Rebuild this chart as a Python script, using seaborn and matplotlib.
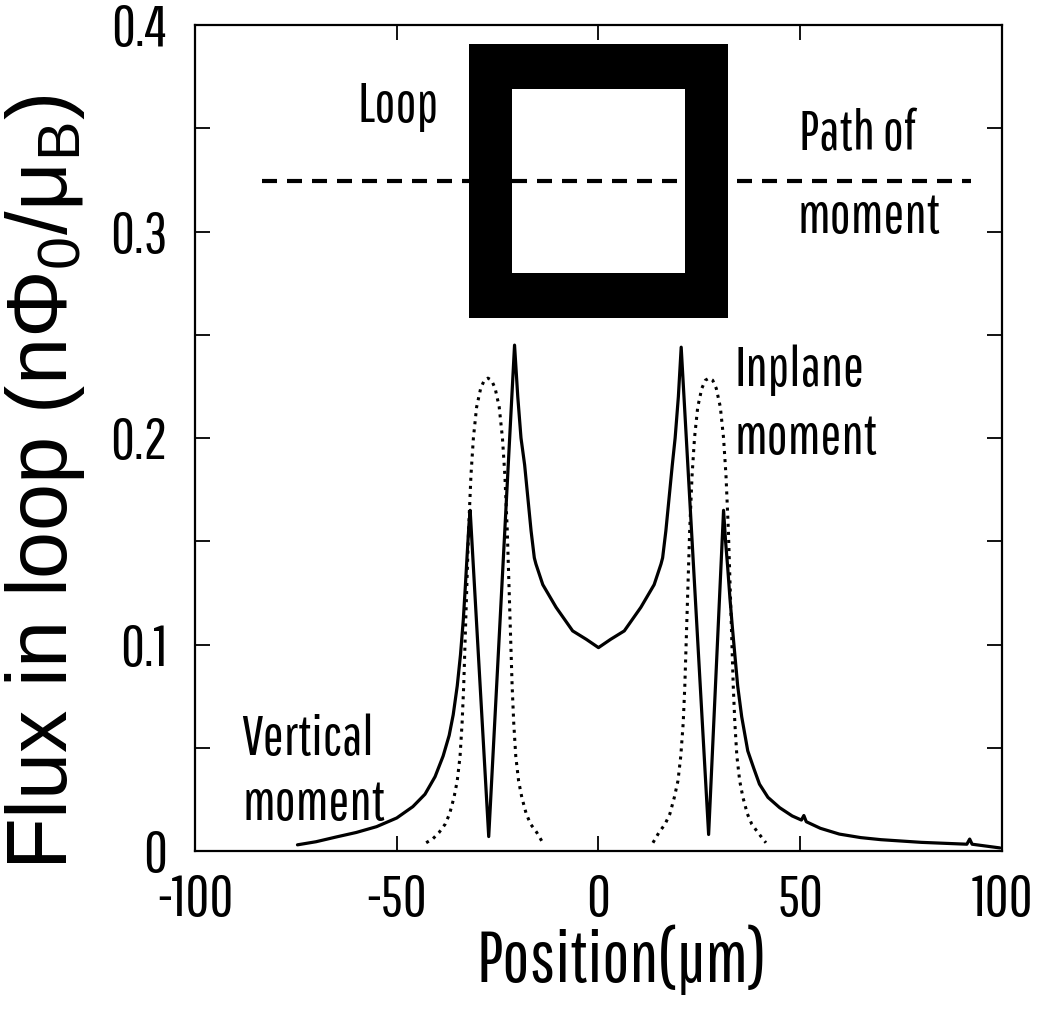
import seaborn as sns
import matplotlib.pyplot as plt
from matplotlib.patches import Rectangle
from matplotlib.ticker import FixedLocator, MultipleLocator

# flux of the vertical moment (solid line)
vert_x = [-74.6, -70.0, -65.0, -60.0, -55.0, -50.0, -46.0, -43.0, -40.5, -38.5,
          -37.0, -36.0, -35.0, -34.2, -33.5, -33.0, -32.5, -32.1, -31.8, -27.2,
          -20.8, -20.0, -19.2, -18.3, -16.7, -15.9, -15.5, -13.8, -10.5, -6.4,
          -3.0, 0.0, 3.0, 6.4, 10.5, 13.8, 15.5, 15.9, 16.7, 18.3,
          19.0, 19.8, 20.5, 27.3, 31.0, 31.5, 32.0, 32.6, 33.2, 33.8,
          34.5, 35.5, 37.0, 38.5, 39.9, 42.0, 44.9, 48.0, 50.3, 50.9,
          51.5, 55.0, 59.7, 65.0, 70.0, 80.0, 91.3, 92.0, 92.6, 99.5]
vert_flux = [0.0030, 0.0045, 0.0068, 0.0090, 0.0118, 0.0160, 0.0215, 0.0275, 0.0360, 0.0460,
             0.0560, 0.0660, 0.0800, 0.0950, 0.1120, 0.1280, 0.1450, 0.1580, 0.1650, 0.0070,
             0.2450, 0.2200, 0.2000, 0.1870, 0.1550, 0.1420, 0.1390, 0.1290, 0.1180, 0.1066,
             0.1025, 0.0985, 0.1025, 0.1066, 0.1180, 0.1290, 0.1390, 0.1420, 0.1550, 0.1870,
             0.2000, 0.2200, 0.2440, 0.0080, 0.1650, 0.1500, 0.1380, 0.1220, 0.1080, 0.0950,
             0.0800, 0.0650, 0.0485, 0.0400, 0.0324, 0.0260, 0.0210, 0.0170, 0.0150, 0.0172,
             0.0142, 0.0110, 0.0082, 0.0065, 0.0055, 0.0042, 0.0033, 0.0058, 0.0033, 0.0015]

# flux of the inplane moment (dotted line), two lobes
inplane_left_x = [-42.7, -41.0, -39.5, -38.0, -36.9, -35.8, -35.0, -34.3, -33.8, -33.4,
                  -33.0, -32.6, -32.2, -31.6, -31.0, -30.2, -29.2, -28.3, -27.4, -26.5,
                  -25.6, -24.6, -23.8, -23.2, -22.6, -22.2, -21.8, -21.4, -21.0, -20.5,
                  -19.8, -19.0, -17.9, -16.8, -15.3, -13.8]
inplane_left_flux = [0.004, 0.006, 0.009, 0.013, 0.018, 0.026, 0.034, 0.046, 0.062, 0.080,
                     0.105, 0.130, 0.155, 0.182, 0.200, 0.215, 0.224, 0.228, 0.229, 0.228,
                     0.224, 0.215, 0.200, 0.182, 0.155, 0.130, 0.105, 0.080, 0.062, 0.046,
                     0.034, 0.026, 0.018, 0.013, 0.009, 0.004]
inplane_right_x = [13.5, 15.0, 16.5, 17.7, 18.8, 19.7, 20.4, 21.0, 21.4, 21.8,
                   22.2, 22.6, 23.2, 23.8, 24.6, 25.6, 26.5, 27.4, 28.3, 29.2,
                   30.2, 31.0, 31.6, 32.2, 32.6, 33.0, 33.4, 33.8, 34.3, 35.0,
                   35.8, 36.9, 38.0, 39.5, 41.5]
inplane_right_flux = [0.004, 0.009, 0.013, 0.018, 0.026, 0.034, 0.046, 0.062, 0.080, 0.105,
                      0.130, 0.155, 0.182, 0.200, 0.215, 0.224, 0.228, 0.229, 0.228, 0.224,
                      0.215, 0.200, 0.182, 0.155, 0.130, 0.105, 0.080, 0.062, 0.046, 0.034,
                      0.026, 0.018, 0.013, 0.009, 0.004]

# pickup loop sketch: [x0, x1, y0, y1]
loop_outer = [-32.0, 32.0, 0.258, 0.391]
loop_inner = [-21.5, 21.5, 0.280, 0.369]
path_x = [-83.5, 92.4]
path_y = [0.3245, 0.3245]

x_ticks = [-100, -50, 0, 50, 100]
y_ticks = [0, 0.1, 0.2, 0.3, 0.4]
y_ticklabels = ["0", "0.1", "0.2", "0.3", "0.4"]

sns.set_style("ticks")
# narrow font for ticks and notes, Helvetica-like one for the y label
narrow = ['Pathway Gothic One', 'Liberation Sans Narrow', 'Liberation Sans', 'DejaVu Sans']
wide = ['Liberation Sans', 'DejaVu Sans']
plt.rcParams['font.family'] = narrow
plt.rcParams['mathtext.default'] = 'regular'
plt.rcParams['axes.unicode_minus'] = False
for k in ['text.color', 'axes.labelcolor', 'xtick.color', 'ytick.color', 'axes.edgecolor']:
    plt.rcParams[k] = 'black'

fig = plt.figure(figsize=(10.41, 10.10), dpi=100)
ax = fig.add_axes([0.1873, 0.1574, 0.7752, 0.8178])

# loop: black frame with white inside, path of the moment dashed across
ax.add_patch(Rectangle((loop_outer[0], loop_outer[2]), loop_outer[1] - loop_outer[0],
                       loop_outer[3] - loop_outer[2], facecolor='black', edgecolor='none', zorder=1))
ax.add_patch(Rectangle((loop_inner[0], loop_inner[2]), loop_inner[1] - loop_inner[0],
                       loop_inner[3] - loop_inner[2], facecolor='white', edgecolor='none', zorder=2))
ax.plot(path_x, path_y, color='black', lw=3, dashes=(3.6, 2.4), zorder=3)

sns.lineplot(x=vert_x, y=vert_flux, ax=ax, color='black', lw=2.3, sort=False, zorder=4)
sns.lineplot(x=inplane_left_x, y=inplane_left_flux, ax=ax, color='black', lw=2.2,
             linestyle=':', sort=False, zorder=4)
sns.lineplot(x=inplane_right_x, y=inplane_right_flux, ax=ax, color='black', lw=2.2,
             linestyle=':', sort=False, zorder=4)

ax.set_xlim(-100, 100)
ax.set_ylim(0, 0.4)
ax.xaxis.set_major_locator(FixedLocator(x_ticks))
ax.set_xticklabels([str(t) for t in x_ticks])
ax.yaxis.set_major_locator(FixedLocator(y_ticks))
ax.set_yticklabels(y_ticklabels)
ax.yaxis.set_minor_locator(MultipleLocator(0.05))

ax.tick_params(axis='both', which='both', direction='in', length=11, width=1.3,
               top=True, right=True)
ax.tick_params(axis='y', which='major', labelsize=42, pad=20)
ax.tick_params(axis='x', which='major', labelsize=42, pad=16)
ax.tick_params(axis='x', which='minor', top=False, bottom=False)
for s in ax.spines.values():
    s.set_linewidth(1.6)

ax.set_xlabel("Position(μm)", fontsize=52, va='center')
ax.xaxis.set_label_coords(0.529, -0.132)
ax.set_ylabel("Flux in loop (nΦ$_0$/μ$_B$)", fontsize=61, va='center', family=wide)
ax.yaxis.set_label_coords(-0.186, 0.447)

txt = dict(fontsize=40, ha='left', va='center')
ax.text(-59.7, 0.3607, "Loop", **txt)
ax.text(49.8, 0.347, "Path of", **txt)
ax.text(49.3, 0.307, "moment", **txt)
ax.text(33.7, 0.2327, "Inplane", **txt)
ax.text(33.7, 0.200, "moment", **txt)
ax.text(-88.6, 0.0543, "Vertical", **txt)
ax.text(-88.3, 0.0228, "moment", **txt)

fig.savefig("out.png", dpi=100, facecolor='white')
